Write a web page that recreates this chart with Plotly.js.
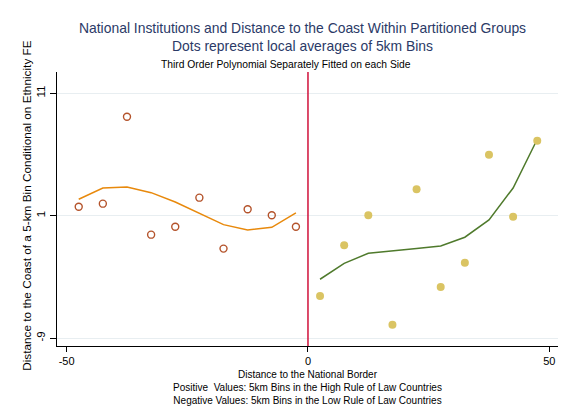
<!DOCTYPE html>
<html>
<head>
<meta charset="utf-8">
<script src="https://cdn.plot.ly/plotly-3.0.1.min.js"></script>
<style>html,body{margin:0;padding:0;background:#fff;}#chart{width:572px;height:417px;}</style>
</head>
<body>
<div id="chart"></div>
<script>
// Bin midpoints (km)
const binsLow = [-47.5, -42.5, -37.5, -32.5, -27.5, -22.5, -17.5, -12.5, -7.5, -2.5];
const binsHigh = [2.5, 7.5, 12.5, 17.5, 22.5, 27.5, 32.5, 37.5, 42.5, 47.5];
// Local averages
const avgLow = [1.73, 1.98, 9.08, -0.55, 0.10, 2.47, -1.69, 1.52, 1.03, 0.10];
const avgHigh = [-5.55, -1.42, 1.03, -7.9, 3.15, -4.82, -2.84, 5.98, 0.92, 7.12];
// Third order polynomial fits
const fitLow = [2.34, 3.26, 3.34, 2.88, 2.12, 1.20, 0.27, -0.17, 0.05, 1.22];
const fitHigh = [-4.19, -2.89, -2.07, -1.91, -1.69, -1.47, -0.76, 0.65, 3.26, 7.24];
// Ticks
const xTicks = [-50, 0, 50];
const yTicks = [-9, 1, 11];
const borderX = [0];
// Texts
const titleLines = ['National Institutions and Distance to the Coast Within Partitioned Groups', 'Dots represent local averages of 5km Bins'];
const subtitle = 'Third Order Polynomial Separately Fitted on each Side';
const yTitle = 'Distance to the Coast of a 5-km Bin Conditional on Ethnicity FE';
const xTitleLines = ['Distance to the National Border', 'Positive  Values: 5km Bins in the High Rule of Law Countries', 'Negative Values: 5km Bins in the Low Rule of Law Countries'];

const FONT = 'Liberation Sans, Arial, sans-serif';

const traces = [
  {x: binsLow, y: fitLow, mode: 'lines', line: {color: '#e8890c', width: 1.5}, hoverinfo: 'skip'},
  {x: binsHigh, y: fitHigh, mode: 'lines', line: {color: '#4f7a2c', width: 1.5}, hoverinfo: 'skip'},
  {x: binsLow, y: avgLow, mode: 'markers', marker: {symbol: 'circle-open', size: 7, color: '#b4532b', line: {width: 1.4, color: '#b4532b'}}},
  {x: binsHigh, y: avgHigh, mode: 'markers', marker: {symbol: 'circle', size: 8, color: '#dac463'}}
];

const layout = {
  width: 572, height: 417,
  margin: {l: 57, r: 14, t: 72, b: 71},
  paper_bgcolor: '#ffffff', plot_bgcolor: '#ffffff',
  showlegend: false,
  font: {family: FONT, color: '#000'},
  annotations: [
    {text: titleLines.join('<br>'), xref: 'paper', yref: 'paper', x: 0.49, y: 1.127, xanchor: 'center', yanchor: 'middle', showarrow: false, font: {size: 13.9, color: '#2b3a67', family: FONT}},
    {text: subtitle, xref: 'paper', yref: 'paper', x: 0.457, y: 1.027, xanchor: 'center', yanchor: 'middle', showarrow: false, font: {size: 10.3, color: '#000', family: FONT}},
    {text: yTitle, xref: 'paper', yref: 'paper', x: -0.06, y: 0.515, xanchor: 'center', yanchor: 'middle', textangle: -90, showarrow: false, font: {size: 11.8, color: '#000', family: FONT}}
  ],
  xaxis: {
    range: [-52, 51.8],
    tickvals: xTicks, ticktext: xTicks.map(String),
    ticks: 'outside', ticklen: 5, tickcolor: '#000', tickwidth: 1,
    showline: true, linecolor: '#000', linewidth: 1,
    showgrid: false, zeroline: false,
    tickfont: {size: 11},
    title: {text: xTitleLines.join('<br>'), font: {size: 10}, standoff: 4}
  },
  yaxis: {
    range: [-9.64, 12.73],
    tickvals: yTicks, ticktext: yTicks.map(String),
    ticks: 'outside', ticklen: 6, tickcolor: '#000', tickwidth: 1,
    tickangle: -90,
    showline: true, linecolor: '#000', linewidth: 1,
    showgrid: true, gridcolor: '#e8eef1', gridwidth: 1,
    zeroline: false,
    tickfont: {size: 11.5}
  },
  shapes: borderX.map(v => ({type: 'line', xref: 'x', yref: 'paper', x0: v, x1: v, y0: 0, y1: 1, line: {color: '#d0103a', width: 1.5}}))
};

Plotly.newPlot('chart', traces, layout, {displayModeBar: false, staticPlot: true});
</script>
</body>
</html>
